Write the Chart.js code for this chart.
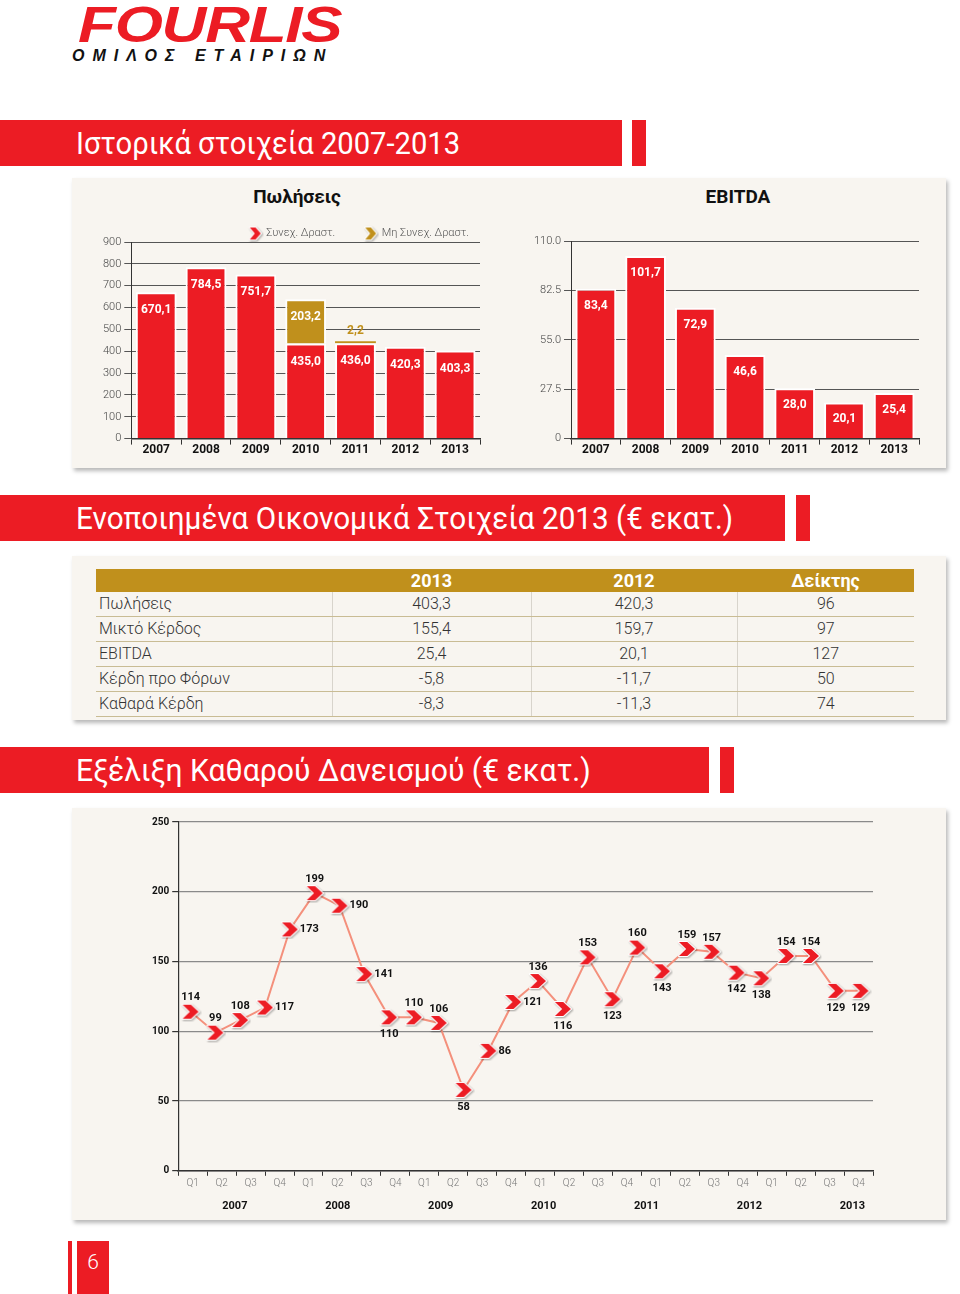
<!DOCTYPE html>
<html><head><meta charset="utf-8">
<script src="https://cdn.jsdelivr.net/npm/chart.js@4.4.1/dist/chart.umd.min.js"></script>
<style>
html,body{margin:0;padding:0;background:#fff}
body{width:960px;height:1294px;position:relative;overflow:hidden;font-family:Roboto,'DejaVu Sans Condensed',sans-serif}
.abs{position:absolute}
.panel{position:absolute;background:#f8f5f0;box-shadow:2px 3px 4px rgba(0,0,0,.28)}
.hdr{position:absolute;left:0;background:#ec1c24;color:#fff;font-size:31px;line-height:48px;padding-left:76px;box-sizing:border-box;white-space:nowrap}
.hdr span{display:inline-block;transform-origin:left center}
.hbar{position:absolute;background:#ec1c24}
.ctitle{position:absolute;font-weight:bold;font-size:19px;color:#111;text-align:center;line-height:20px}
canvas{position:absolute}
#tbl{position:absolute;left:96px;top:569px;border-collapse:collapse;table-layout:fixed;width:818px}
#tbl td{padding:0;height:24px;font-size:16px;color:#333;text-align:center;border-bottom:1px solid #c9bc94;line-height:20px;font-weight:300}
#tbl td+td{border-left:1px solid #d8d4cc}
#tbl tr.h td{background:#c0901c;color:#fff;font-weight:bold;font-size:18px;height:23px;border-bottom:none;border-left:none}
#tbl td.l{text-align:left;padding-left:3px}
</style></head><body>

<div class="abs" style="left:78px;top:0px;font:italic bold 50px/50px 'Liberation Sans',Arial,sans-serif;color:#ec1c24;transform:scaleX(1.24);transform-origin:left top;letter-spacing:-1px">FOURLIS</div>
<div class="abs" style="left:72px;top:48px;font:italic bold 16px/16px 'Liberation Sans',Arial,sans-serif;letter-spacing:8px;color:#111">ΟΜΙΛΟΣ ΕΤΑΙΡΙΩΝ</div>

<div class="hdr" style="top:120px;height:46px;width:622px"><span>Ιστορικά στοιχεία 2007-2013</span></div>
<div class="hbar" style="left:632px;top:120px;width:14px;height:46px"></div>

<div class="panel" style="left:72px;top:178px;width:874px;height:290px"></div>
<div class="ctitle" style="left:197px;top:187px;width:200px">Πωλήσεις</div>
<div class="ctitle" style="left:638px;top:187px;width:200px">EBITDA</div>
<canvas id="sales" width="427" height="270" style="left:72px;top:198px"></canvas>
<canvas id="ebitda" width="416" height="262" style="left:530px;top:206px"></canvas>

<div class="hdr" style="top:495px;height:46px;width:785px"><span>Ενοποιημένα Οικονομικά Στοιχεία 2013 (€ εκατ.)</span></div>
<div class="hbar" style="left:796px;top:495px;width:14px;height:46px"></div>

<div class="panel" style="left:72px;top:556px;width:874px;height:164px"></div>
<table id="tbl"></table>

<div class="hdr" style="top:747px;height:46px;width:709px"><span>Εξέλιξη Καθαρού Δανεισμού (€ εκατ.)</span></div>
<div class="hbar" style="left:720px;top:747px;width:14px;height:46px"></div>

<div class="panel" style="left:72px;top:808px;width:874px;height:412px"></div>
<canvas id="debt" width="874" height="405" style="left:72px;top:808px"></canvas>

<div class="hbar" style="left:68px;top:1241px;width:4px;height:53px"></div>
<div class="hbar" style="left:77px;top:1241px;width:32px;height:53px;color:#fff;font-size:21px;line-height:42px;text-align:center;font-weight:300">6</div>

<script>
// ---------- DATA ----------
const years = ['2007','2008','2009','2010','2011','2012','2013'];
const salesContinuing = [670.1, 784.5, 751.7, 435.0, 436.0, 420.3, 403.3];
const salesDiscontinued = [null, null, null, 203.2, 2.2, null, null];
const salesTicks = [0, 100, 200, 300, 400, 500, 600, 700, 800, 900];
const ebitdaValues = [83.4, 101.7, 72.9, 46.6, 28.0, 20.1, 25.4];
const ebitdaTicks = [0, 27.5, 55, 82.5, 110];

const tableHeads = ['', '2013', '2012', 'Δείκτης'];
const tableItems = ['Πωλήσεις', 'Μικτό Κέρδος', 'EBITDA', 'Κέρδη προ Φόρων', 'Καθαρά Κέρδη'];
const col2013 = [403.3, 155.4, 25.4, -5.8, -8.3];
const col2012 = [420.3, 159.7, 20.1, -11.7, -11.3];
const colIndex = [96, 97, 127, 50, 74];

const debtYears = [2007, 2008, 2009, 2010, 2011, 2012, 2013];
const quarterNames = ['Q1', 'Q2', 'Q3', 'Q4'];
const quarterAxisLabels = ['Q1','Q2','Q3','Q4','Q1','Q2','Q3','Q4','Q1','Q2','Q3','Q4','Q1','Q2','Q3','Q4','Q1','Q2','Q3','Q4','Q1','Q2','Q3','Q4'];
const netDebt = [114, 99, 108, 117, 173, 199, 190, 141, 110, 110, 106, 58, 86, 121, 136, 116, 153, 123, 160, 143, 159, 157, 142, 138, 154, 154, 129, 129];
const debtTicks = [0, 50, 100, 150, 200, 250];

// ---------- STYLE ----------
const FONT = "Roboto,'DejaVu Sans Condensed',sans-serif";
const RED = '#ec1c24', GOLD = '#c0901c';
const debtLabelPlacement = ['t','t','t','r','r','t','r','r','b','t','t','b','r','r','t','b','t','b','t','b','t','t','b','b','t','t','b','b'];
const headerWidths = [384, 657, 515];
Chart.defaults.font.family = FONT;
const fmt = v => v.toFixed(1).replace('.', ',');

// fit section header text widths
document.querySelectorAll('.hdr span').forEach((s,i)=>{
  const w=s.getBoundingClientRect().width;
  s.style.transform='scaleX('+(headerWidths[i]/w).toFixed(3)+')';
});

// table
(function(){
  const t = document.getElementById('tbl');
  const cg = document.createElement('colgroup');
  [236,199,206,177].forEach(w=>{const c=document.createElement('col');c.style.width=w+'px';cg.appendChild(c);});
  t.appendChild(cg);
  const hr = t.insertRow(); hr.className='h';
  tableHeads.forEach(h=>{const c=hr.insertCell(); c.textContent=h;});
  tableItems.forEach((name,i)=>{
    const r=t.insertRow();
    const c0=r.insertCell(); c0.className='l'; c0.textContent=name;
    r.insertCell().textContent=fmt(col2013[i]);
    r.insertCell().textContent=fmt(col2012[i]);
    r.insertCell().textContent=String(colIndex[i]);
  });
})();

function chevron(w,h,color,outline){
  const pad=3, c=document.createElement('canvas');
  c.width=w+pad*2; c.height=h+pad*2;
  const g=c.getContext('2d');
  g.translate(pad,pad);
  g.beginPath();
  g.moveTo(0,0); g.lineTo(w*0.52,0); g.lineTo(w,h/2); g.lineTo(w*0.52,h); g.lineTo(0,h); g.lineTo(w*0.45,h/2); g.closePath();
  if(outline){
    g.save(); g.shadowColor='rgba(0,0,0,.35)'; g.shadowBlur=2; g.shadowOffsetX=1; g.shadowOffsetY=1;
    g.lineWidth=2.2; g.lineJoin='round'; g.strokeStyle='#fff'; g.stroke(); g.restore();
  }
  g.fillStyle=color; g.fill();
  return c;
}
const legRed = chevron(11,12,RED,true), legGold = chevron(11,12,GOLD,true);
const ptRed = chevron(16,14,RED,true);

const barLabels = {
  id:'barLabels',
  afterDatasetsDraw(chart, args, opts){
    const ctx=chart.ctx; ctx.save();
    ctx.font='bold 12px '+FONT; ctx.textAlign='center'; ctx.textBaseline='middle';
    chart.data.datasets.forEach((ds,di)=>{
      chart.getDatasetMeta(di).data.forEach((bar,i)=>{
        const v=ds.data[i]; if(v==null) return;
        const h=bar.base-bar.y;
        if(h<20){ ctx.fillStyle=ds.backgroundColor; ctx.fillText(fmt(v), bar.x, bar.y-10); }
        else { ctx.fillStyle='#fff'; ctx.fillText(fmt(v), bar.x, bar.y+(opts.offset||18)); }
      });
    });
    ctx.restore();
  }
};

function barScales(ticks, max, labelFn, spacer){
  const s = {
    x:{stacked:true, offset:true,
       grid:{display:true, drawOnChartArea:false, offset:true, tickLength:6, color:'#333', lineWidth:1},
       border:{display:true, color:'#333', width:1.5},
       ticks:{font:{family:FONT,size:12,weight:'bold'}, color:'#111', padding:-2, maxRotation:0}},
    y:{stacked:true, min:0, max:max,
       afterBuildTicks:a=>{a.ticks=ticks.map(v=>({value:v}));},
       grid:{color:'#555', lineWidth:1, tickLength:7},
       border:{display:true, color:'#333', width:1},
       ticks:{font:{family:FONT,size:11,weight:300}, color:'#444', padding:3, callback:labelFn}}
  };
  if(spacer){
    s.yRightSpace = {position:'right', display:true, grid:{display:false}, border:{display:false},
      ticks:{display:false}, afterFit:a=>{a.width=spacer;}};
  }
  return s;
}

new Chart(document.getElementById('sales'), {
  type:'bar',
  data:{labels:years, datasets:[
    {label:'Συνεχ. Δραστ.', data:salesContinuing, backgroundColor:RED, borderColor:'#fff', borderWidth:2, borderSkipped:'bottom', barPercentage:0.82, categoryPercentage:1, pointStyle:legRed, stack:'s'},
    {label:'Μη Συνεχ. Δραστ.', data:salesDiscontinued, backgroundColor:GOLD, borderColor:'#fff',
     borderWidth:c=>(c.raw!=null && c.raw<10)?0:2, minBarLength:2, borderSkipped:'bottom', barPercentage:0.82, categoryPercentage:1, pointStyle:legGold, stack:'s'}
  ]},
  options:{
    responsive:false, animation:false, devicePixelRatio:1,
    layout:{padding:{left:28,right:0,top:0,bottom:13}},
    plugins:{
      legend:{display:true, align:'end', maxHeight:44,
        labels:{usePointStyle:true, boxWidth:13, boxHeight:11, padding:30, font:{family:FONT,size:11,weight:300}, color:'#555'}},
      tooltip:{enabled:false},
      barLabels:{offset:18}
    },
    scales:barScales(salesTicks, 900, v=>String(v), 19)
  },
  plugins:[barLabels]
});

new Chart(document.getElementById('ebitda'), {
  type:'bar',
  data:{labels:years, datasets:[
    {label:'EBITDA', data:ebitdaValues, backgroundColor:RED, borderColor:'#fff', borderWidth:2, borderSkipped:'bottom', barPercentage:0.82, categoryPercentage:1}
  ]},
  options:{
    responsive:false, animation:false, devicePixelRatio:1,
    layout:{padding:{left:1,right:27,top:35,bottom:13}},
    plugins:{legend:{display:false}, tooltip:{enabled:false}, barLabels:{offset:17}},
    scales:barScales(ebitdaTicks, 110, v=>v===0?'0':v.toFixed(1), 0)
  },
  plugins:[barLabels]
});

const pointLabels = {
  id:'pointLabels',
  afterDatasetsDraw(chart, args, opts){
    const ctx=chart.ctx; ctx.save();
    ctx.font='bold 11px '+FONT; ctx.fillStyle='#111'; ctx.textBaseline='middle';
    const ds=chart.data.datasets[0];
    chart.getDatasetMeta(0).data.forEach((pt,i)=>{
      const p=opts.placement[i], t=String(ds.data[i]);
      if(p==='r'){ctx.textAlign='left'; ctx.fillText(t, pt.x+10, pt.y);}
      else if(p==='b'){ctx.textAlign='center'; ctx.fillText(t, pt.x, pt.y+17);}
      else {ctx.textAlign='center'; ctx.fillText(t, pt.x, pt.y-14);}
    });
    ctx.restore();
  }
};

const periodLabels = [];
debtYears.forEach(y=>quarterNames.forEach(q=>periodLabels.push(q+' '+y)));

new Chart(document.getElementById('debt'), {
  type:'line',
  data:{labels:periodLabels, datasets:[{
    data:netDebt, xAxisID:'x', yAxisID:'y',
    borderColor:'#f4907c', borderWidth:2, tension:0,
    pointStyle:ptRed, pointRadius:8, pointHoverRadius:8
  }]},
  options:{
    responsive:false, animation:false, devicePixelRatio:1,
    layout:{padding:{left:77,right:73,top:14,bottom:0}},
    plugins:{legend:{display:false}, tooltip:{enabled:false}, pointLabels:{placement:debtLabelPlacement}},
    scales:{
      x:{type:'category', offset:true, display:false},
      xq:{type:'category', position:'bottom', labels:quarterAxisLabels, offset:true, weight:1,
          grid:{display:true, drawOnChartArea:false, offset:true, tickLength:5, color:'#333', lineWidth:1},
          border:{display:true, color:'#333', width:1.5},
          ticks:{font:{family:FONT,size:10,weight:300}, color:'#777', padding:2, autoSkip:false, maxRotation:0}},
      xy:{type:'linear', position:'bottom', min:2006.45, max:2013.2, weight:2,
          afterBuildTicks:a=>{a.ticks=debtYears.map(v=>({value:v}));},
          grid:{display:false}, border:{display:false},
          ticks:{font:{family:FONT,size:11,weight:'bold'}, color:'#111', padding:0, autoSkip:false, maxRotation:0, callback:v=>String(v)}},
      y:{min:0, max:250,
         afterBuildTicks:a=>{a.ticks=debtTicks.map(v=>({value:v}));},
         grid:{color:'#8a8a8a', lineWidth:1.2, tickLength:6, tickColor:'#333'},
         border:{display:true, color:'#333', width:1.2},
         ticks:{font:{family:FONT,size:10,weight:'bold'}, color:'#111', padding:3}}
    }
  },
  plugins:[pointLabels]
});
</script>
</body></html>
